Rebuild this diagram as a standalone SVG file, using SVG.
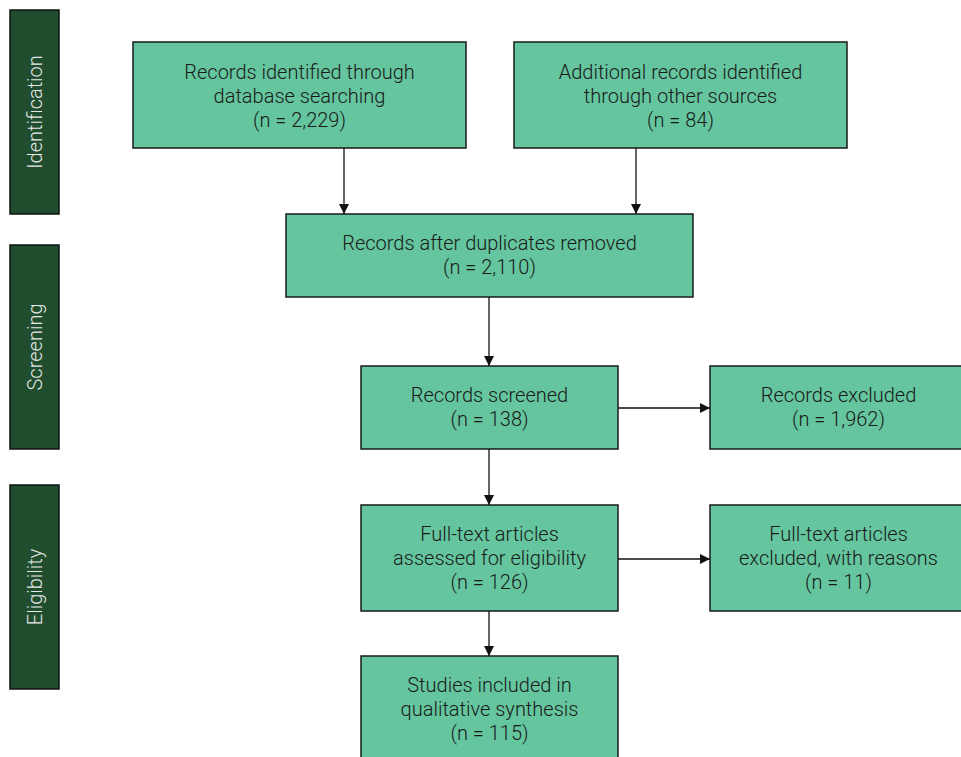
<svg xmlns="http://www.w3.org/2000/svg" width="961" height="757" viewBox="0 0 961 757">
<style>
.side{fill:#1f4d2d;stroke:#111;stroke-width:1.5}
.sl{font-family:Roboto,"Open Sans",sans-serif;font-weight:300;font-size:20px;fill:#e6e6e6;text-anchor:middle}
.box{fill:#64c59e;stroke:#1a1a1a;stroke-width:1.5}
.t{font-family:Roboto,"Liberation Sans",sans-serif;font-weight:300;font-size:20px;fill:#1a1a1a;text-anchor:middle}
.c{stroke:#111;stroke-width:1.3;fill:none;marker-end:url(#ah)}
</style>
<defs>
<marker id="ah" viewBox="0 0 10 10" refX="10" refY="5" markerWidth="10" markerHeight="10" markerUnits="userSpaceOnUse" orient="auto">
<path d="M0,0 L10,5 L0,10 z" fill="#111"/>
</marker>
</defs>
<rect width="961" height="757" fill="#fff"/>
<g id="identification">
<rect class="side" x="10" y="10" width="49" height="204"/>
<text class="sl" transform="translate(42,112) rotate(-90)">Identification</text>
</g>
<g id="screening">
<rect class="side" x="10" y="245" width="49" height="204"/>
<text class="sl" transform="translate(42,347) rotate(-90)">Screening</text>
</g>
<g id="eligibility">
<rect class="side" x="10" y="485" width="49" height="204"/>
<text class="sl" transform="translate(42,587) rotate(-90)">Eligibility</text>
</g>
<g id="connectors">
<path class="c" d="M344,148 V214"/>
<path class="c" d="M636,148 V214"/>
<path class="c" d="M489,297 V366"/>
<path class="c" d="M618,408 H710"/>
<path class="c" d="M489,449 V505"/>
<path class="c" d="M618,559 H710"/>
<path class="c" d="M489,611 V656"/>
</g>
<g id="db">
<rect class="box" x="133" y="42" width="333" height="106"/>
<text class="t" x="299.500" y="79">Records identified through</text>
<text class="t" x="299.500" y="103">database searching</text>
<text class="t" x="299.500" y="127">(n = 2,229)</text>
</g>
<g id="other">
<rect class="box" x="514" y="42" width="333" height="106"/>
<text class="t" x="680.500" y="79">Additional records identified</text>
<text class="t" x="680.500" y="103">through other sources</text>
<text class="t" x="680.500" y="127">(n = 84)</text>
</g>
<g id="dup">
<rect class="box" x="286" y="214" width="407" height="83"/>
<text class="t" x="489.500" y="250">Records after duplicates removed</text>
<text class="t" x="489.500" y="274">(n = 2,110)</text>
</g>
<g id="screened">
<rect class="box" x="361" y="366" width="257" height="83"/>
<text class="t" x="489.500" y="402">Records screened</text>
<text class="t" x="489.500" y="426">(n = 138)</text>
</g>
<g id="excluded">
<rect class="box" x="710" y="366" width="255" height="83"/>
<text class="t" x="838.500" y="402">Records excluded</text>
<text class="t" x="838.500" y="426">(n = 1,962)</text>
</g>
<g id="fulltext">
<rect class="box" x="361" y="505" width="257" height="106"/>
<text class="t" x="489.500" y="541">Full-text articles</text>
<text class="t" x="489.500" y="565">assessed for eligibility</text>
<text class="t" x="489.500" y="589">(n = 126)</text>
</g>
<g id="ftexcluded">
<rect class="box" x="710" y="505" width="255" height="106"/>
<text class="t" x="838.500" y="541">Full-text articles</text>
<text class="t" x="838.500" y="565">excluded, with reasons</text>
<text class="t" x="838.500" y="589">(n = 11)</text>
</g>
<g id="included">
<rect class="box" x="361" y="656" width="257" height="106"/>
<text class="t" x="489.500" y="692">Studies included in</text>
<text class="t" x="489.500" y="716">qualitative synthesis</text>
<text class="t" x="489.500" y="740">(n = 115)</text>
</g>
</svg>
